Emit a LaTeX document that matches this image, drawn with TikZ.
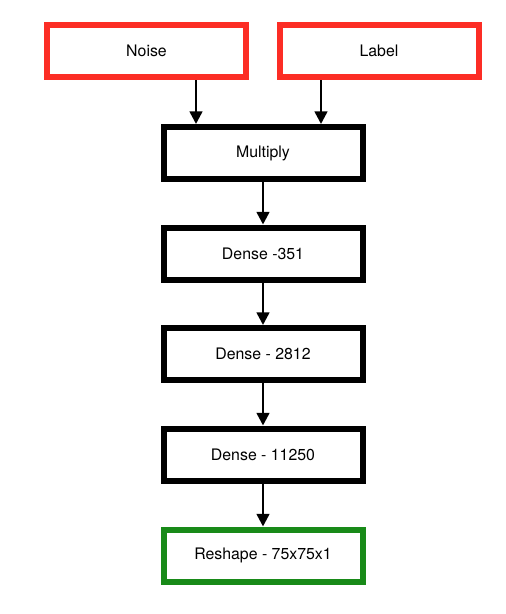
\documentclass[tikz,border=0pt]{standalone}
\usepackage{xcolor}
\usepackage{tikz}
\usepackage{fontspec}
\setmainfont{TeX Gyre Heros}
\usetikzlibrary{arrows.meta}

\definecolor{inred}{RGB}{252,45,37}
\definecolor{outgreen}{RGB}{24,138,24}

\begin{document}
\begin{tikzpicture}[x=0.75pt,y=0.75pt,yscale=-1,xscale=1,
  layer/.style={draw=black,line width=4.5pt,fill=white,minimum width=149.25pt,minimum height=39pt,inner sep=0pt,font=\fontsize{11.9}{13}\selectfont},
  flow/.style={line width=1.9pt,-{Triangle[width=9.5pt,length=9.5pt]}}]
\useasboundingbox (0,0) rectangle (506,614);

% Input Nodes
\node [layer,draw=inred] (noise) at (146.5,51) {Noise};
\node [layer,draw=inred] (label) at (379,51) {Label};

% Layer Nodes
\node [layer] (multiply) at (263,153) {Multiply};
\node [layer] (dense1) at (263,253.5) {Dense -351};
\node [layer] (dense2) at (263,354) {Dense - 2812};
\node [layer] (dense3) at (263,454.5) {Dense - 11250};
\node [layer,draw=outgreen] (reshape) at (263,555.5) {Reshape - 75x75x1};

%Straight Lines
\draw [flow] (noise.south -| 196,0) -- (multiply.north -| 196,0);
\draw [flow] (label.south -| 321,0) -- (multiply.north -| 321,0);
\draw [flow] (multiply) -- (dense1);
\draw [flow] (dense1) -- (dense2);
\draw [flow] (dense2) -- (dense3);
\draw [flow] (dense3) -- (reshape);

\end{tikzpicture}
\end{document}
